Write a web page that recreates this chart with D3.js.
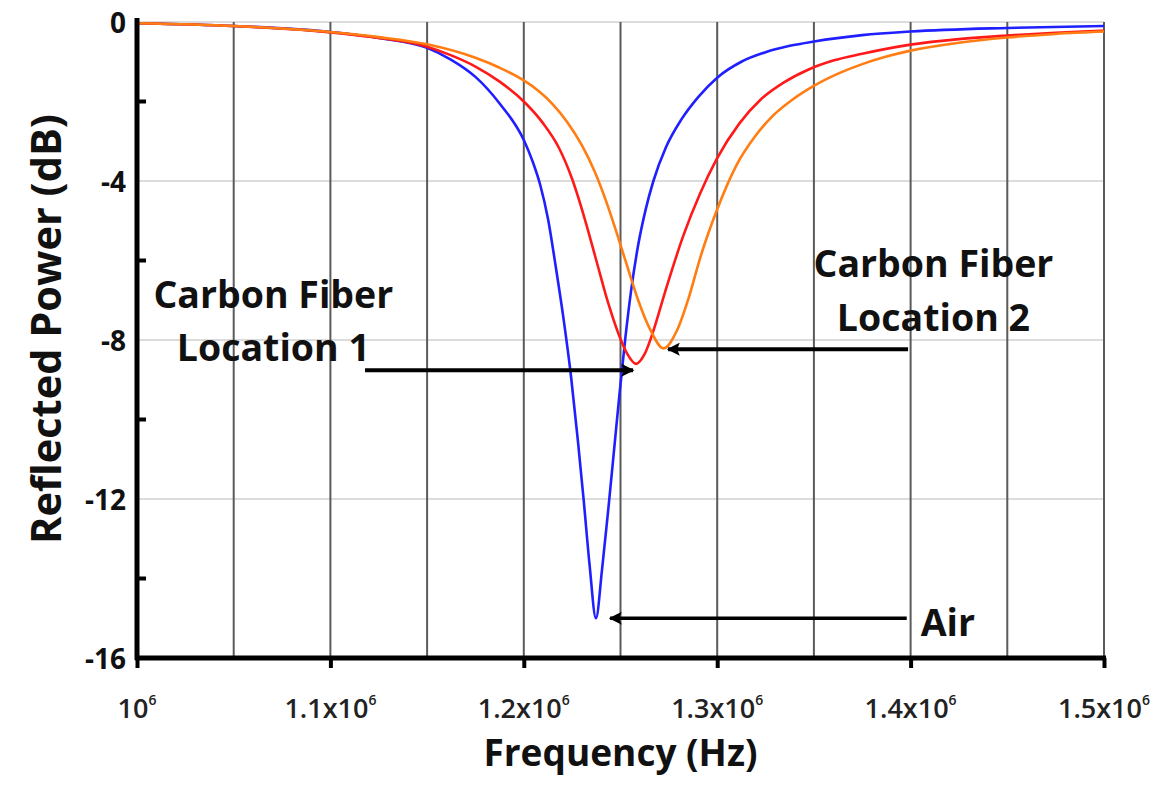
<!DOCTYPE html>
<html>
<head>
<meta charset="utf-8">
<script src="https://cdn.jsdelivr.net/npm/d3@7"></script>
<style>
  html, body { margin: 0; padding: 0; background: #fff; }
  svg { display: block; }
  text { font-family: "Open Sans", "DejaVu Sans", sans-serif; }
</style>
</head>
<body>
<svg id="chart" width="1166" height="786"></svg>
<script>
// ---------------- data (frequency in units of 1e6 Hz, reflected power in dB) ----------------
const airFreq = [1.000, 1.050, 1.100, 1.125, 1.150, 1.1625, 1.175, 1.1875, 1.200, 1.2045, 1.2085, 1.2125, 1.2165, 1.2205, 1.2245, 1.228, 1.231, 1.234, 1.2373, 1.2405, 1.2435, 1.2465, 1.2495, 1.2525, 1.2555, 1.259, 1.263, 1.267, 1.2735, 1.2815, 1.2905, 1.300, 1.3125, 1.325, 1.3375, 1.350, 1.375, 1.400, 1.450, 1.500];
const airDb   = [-0.03, -0.10, -0.25, -0.40, -0.65, -0.95, -1.38, -2.05, -2.97, -3.50, -4.10, -4.95, -6.15, -7.45, -8.95, -10.55, -12.05, -13.65, -15.00, -13.75, -12.35, -10.85, -9.35, -7.95, -6.75, -5.65, -4.72, -4.00, -3.15, -2.45, -1.87, -1.40, -1.00, -0.76, -0.60, -0.49, -0.33, -0.24, -0.15, -0.10];

const loc1Freq = [1.000, 1.050, 1.100, 1.125, 1.150, 1.1625, 1.175, 1.1875, 1.200, 1.210, 1.218, 1.225, 1.2315, 1.2375, 1.2435, 1.249, 1.2535, 1.258, 1.2625, 1.2668, 1.273, 1.2823, 1.2911, 1.2997, 1.3115, 1.3225, 1.3345, 1.347, 1.360, 1.375, 1.400, 1.425, 1.450, 1.475, 1.500];
const loc1Db   = [-0.03, -0.10, -0.26, -0.40, -0.62, -0.84, -1.12, -1.50, -2.00, -2.55, -3.15, -3.95, -4.95, -6.00, -7.05, -7.85, -8.35, -8.60, -8.35, -7.80, -6.80, -5.40, -4.32, -3.45, -2.55, -1.95, -1.52, -1.20, -0.97, -0.80, -0.57, -0.43, -0.34, -0.27, -0.22];

const loc2Freq = [1.000, 1.050, 1.100, 1.125, 1.150, 1.175, 1.1875, 1.200, 1.2075, 1.215, 1.2225, 1.230, 1.2368, 1.2425, 1.248, 1.2535, 1.259, 1.2655, 1.2722, 1.279, 1.2855, 1.2911, 1.2997, 1.310, 1.320, 1.329, 1.339, 1.3495, 1.3625, 1.375, 1.3875, 1.400, 1.425, 1.450, 1.475, 1.500];
const loc2Db   = [-0.03, -0.10, -0.25, -0.38, -0.56, -0.90, -1.15, -1.47, -1.73, -2.07, -2.52, -3.10, -3.78, -4.50, -5.30, -6.15, -6.98, -7.75, -8.21, -7.78, -6.90, -5.95, -4.75, -3.60, -2.85, -2.35, -1.95, -1.62, -1.30, -1.06, -0.87, -0.72, -0.52, -0.39, -0.30, -0.24];

const seriesNames  = ["Air", "Carbon Fiber Location 1", "Carbon Fiber Location 2"];
const seriesColors = ["#1f1fff", "#ff1a1a", "#ff7d12"];

const xTickValues = [1.0e6, 1.1e6, 1.2e6, 1.3e6, 1.4e6, 1.5e6];
const xTickMantissa = ["10", "1.1x10", "1.2x10", "1.3x10", "1.4x10", "1.5x10"];
const xTickExponent = "6";
const xGridValues = [1.05e6, 1.1e6, 1.15e6, 1.2e6, 1.25e6, 1.3e6, 1.35e6, 1.4e6, 1.45e6, 1.5e6];
const yTickValues = [-16, -12, -8, -4, 0];
const yTickLabels = ["-16", "-12", "-8", "-4", "0"];
const yMinorValues = [-14, -10, -6, -2];

// annotations: text lines and arrows (data units)
const annoTexts = [
  { lines: ["Carbon Fiber", "Location 1"], f: 1.0705e6, db: [-7.2, -8.54] },
  { lines: ["Carbon Fiber", "Location 2"], f: 1.4118e6, db: [-6.42, -7.77] },
  { lines: ["Air"], f: 1.4193e6, db: [-15.45] }
];
const arrows = [
  { from: [1.1179e6, -8.76], to: [1.2565e6, -8.76], w: 4 },
  { from: [1.3987e6, -8.23], to: [1.2746e6, -8.23], w: 4 },
  { from: [1.3980e6, -15.0], to: [1.2446e6, -15.0], w: 3.5 }
];

// ---------------- drawing ----------------
const svg = d3.select("#chart");
const pLeft = 137, pRight = 1104, pTop = 22, pBottom = 658;
const x = d3.scaleLinear().domain([1.0e6, 1.5e6]).range([pLeft, pRight]);
const y = d3.scaleLinear().domain([-16, 0]).range([pBottom, pTop]);

// horizontal light gridlines
svg.append("g").selectAll("line").data(yTickValues.filter(v => v > -16)).join("line")
  .attr("x1", pLeft).attr("x2", pRight)
  .attr("y1", d => y(d)).attr("y2", d => y(d))
  .attr("stroke", "#dcdcdc").attr("stroke-width", 2);

// vertical gridlines
svg.append("g").selectAll("line").data(xGridValues).join("line")
  .attr("x1", d => x(d)).attr("x2", d => x(d))
  .attr("y1", pTop).attr("y2", pBottom)
  .attr("stroke", "#5a5a5a").attr("stroke-width", 2);

// curves
const series = [
  { f: airFreq, v: airDb },
  { f: loc1Freq, v: loc1Db },
  { f: loc2Freq, v: loc2Db }
];
const line = d3.line().x(d => x(d[0] * 1e6)).y(d => y(d[1])).curve(d3.curveMonotoneX);
series.forEach((s, i) => {
  const pts = s.f.map((f, k) => [f, s.v[k]]);
  svg.append("path").datum(pts)
    .attr("d", line)
    .attr("fill", "none")
    .attr("stroke", seriesColors[i])
    .attr("stroke-width", 2.6)
    .attr("stroke-linejoin", "round")
    .attr("aria-label", seriesNames[i]);
});

// x axis
const xAxis = d3.axisBottom(x).tickValues(xTickValues).tickSize(10).tickSizeOuter(0).tickFormat(() => "");
const gx = svg.append("g").attr("transform", `translate(0,${pBottom})`).call(xAxis);
gx.select(".domain").attr("stroke", "#000").attr("stroke-width", 5)
  .attr("d", `M${pLeft - 2},0H${pRight + 2}`);
gx.selectAll(".tick line").attr("stroke", "#000").attr("stroke-width", 4);
gx.selectAll(".tick text").remove();
xTickValues.forEach((v, i) => {
  const t = svg.append("text")
    .attr("x", x(v)).attr("y", pBottom + 60)
    .attr("text-anchor", "middle")
    .attr("font-size", 27).attr("font-weight", 600).attr("fill", "#222");
  t.append("tspan").text(xTickMantissa[i]);
  t.append("tspan").attr("dy", -13).attr("font-size", 14).text(xTickExponent);
});

// y axis
const yAxis = d3.axisLeft(y).tickValues(yTickValues).tickSize(0).tickSizeOuter(0)
  .tickFormat((d, i) => yTickLabels[i]).tickPadding(11);
const gy = svg.append("g").attr("transform", `translate(${pLeft},0)`).call(yAxis);
gy.select(".domain").attr("stroke", "#000").attr("stroke-width", 5)
  .attr("d", `M0,${pTop - 4}V${pBottom + 2}`);
gy.selectAll(".tick text")
  .attr("font-family", "'Open Sans', sans-serif")
  .attr("font-size", 28).attr("font-weight", 700).attr("fill", "#111")
  .attr("dy", "0.38em");
// minor y ticks (inside)
svg.append("g").selectAll("line").data(yMinorValues).join("line")
  .attr("x1", pLeft).attr("x2", pLeft + 9)
  .attr("y1", d => y(d)).attr("y2", d => y(d))
  .attr("stroke", "#000").attr("stroke-width", 4);

// axis titles
svg.append("text")
  .attr("x", (pLeft + pRight) / 2).attr("y", 766)
  .attr("text-anchor", "middle")
  .attr("font-size", 37).attr("font-weight", 700).attr("fill", "#111")
  .text("Frequency (Hz)");
svg.append("text")
  .attr("transform", `translate(61,329) rotate(-90)`)
  .attr("text-anchor", "middle")
  .attr("font-size", 41.5).attr("font-weight", 700).attr("fill", "#111")
  .text("Reflected Power (dB)");

// annotation arrows
const defs = svg.append("defs");
defs.append("marker").attr("id", "ah")
  .attr("viewBox", "0 0 10 10").attr("refX", 9).attr("refY", 5)
  .attr("markerUnits", "userSpaceOnUse")
  .attr("markerWidth", 15).attr("markerHeight", 13).attr("orient", "auto")
  .append("path").attr("d", "M0,0L10,5L0,10L2,5Z").attr("fill", "#000");
svg.append("g").selectAll("line").data(arrows).join("line")
  .attr("x1", d => x(d.from[0])).attr("y1", d => y(d.from[1]))
  .attr("x2", d => x(d.to[0])).attr("y2", d => y(d.to[1]))
  .attr("stroke", "#000").attr("stroke-width", d => d.w)
  .attr("marker-end", "url(#ah)");

// annotation texts
annoTexts.forEach(a => {
  a.lines.forEach((ln, i) => {
    svg.append("text")
      .attr("x", x(a.f)).attr("y", y(a.db[i]))
      .attr("text-anchor", "middle")
      .attr("font-size", 37.5).attr("font-weight", 700).attr("fill", "#111")
      .text(ln);
  });
});
</script>
</body>
</html>
